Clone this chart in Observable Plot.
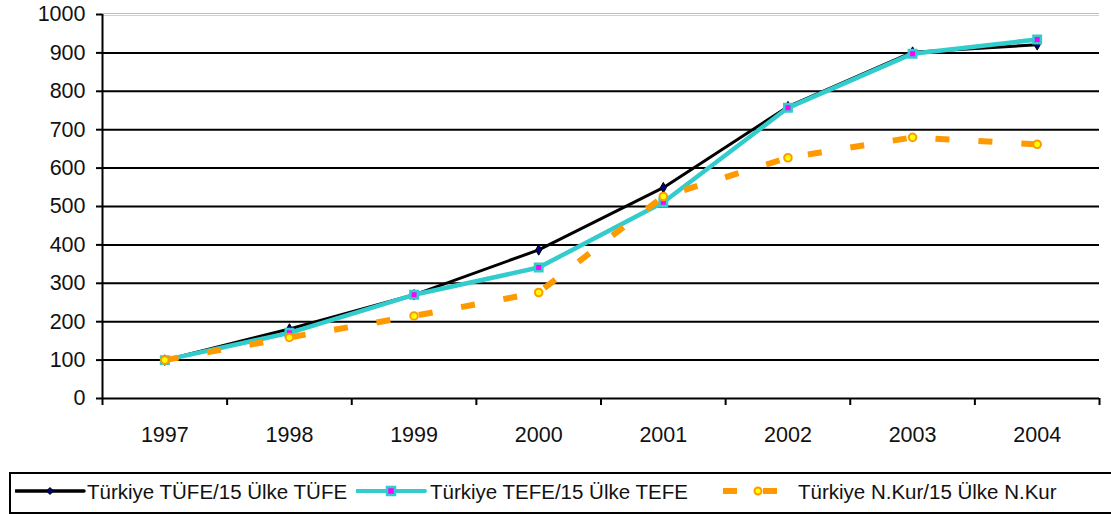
<!DOCTYPE html>
<html>
<head>
<meta charset="utf-8">
<script src="https://cdn.jsdelivr.net/npm/d3@7"></script>
<script src="https://cdn.jsdelivr.net/npm/@observablehq/plot@0.6"></script>
<style>
  html, body { margin: 0; padding: 0; background: #fff; }
  #wrap { position: relative; width: 1111px; height: 514px; overflow: hidden; font-family: "Liberation Sans", Arial, sans-serif; }
  #legend { position: absolute; left: 9px; top: 472px; width: 1110px; height: 38px; border: 2px solid #000; box-sizing: content-box; }
  .lg { position: absolute; top: 0; font-size: 20.5px; line-height: 38px; color: #111; white-space: nowrap; }
  .sw { position: absolute; top: 0; }
</style>
</head>
<body>
<div id="wrap">
  <div id="chart"></div>
  <div id="legend"></div>
</div>
<script>
const years = [1997, 1998, 1999, 2000, 2001, 2002, 2003, 2004];
const tufe = [100, 181, 270, 387, 549, 760, 902, 921];
const tefe = [100, 171, 270, 341, 511, 757, 898, 935];
const nkur = [100, 159, 215, 276, 526, 627, 680, 662];
const seriesNames = ["Türkiye TÜFE/15 Ülke TÜFE", "Türkiye TEFE/15 Ülke TEFE", "Türkiye N.Kur/15 Ülke N.Kur"];
const yTicks = d3.range(0, 1001, 100);
const gridValues = d3.range(100, 1000, 100);

const rows = (vals) => years.map((y, i) => ({year: y, value: vals[i]}));
const dTufe = rows(tufe), dTefe = rows(tefe), dNkur = rows(nkur);
const bounds = d3.range(years[0] - 0.5, years[years.length - 1] + 1, 1);

const H = 465;
const chart = Plot.plot({
  width: 1111,
  height: H,
  marginLeft: 102,
  marginRight: 12,
  marginTop: 14,
  marginBottom: H - 398,
  style: {fontFamily: "'Liberation Sans', Arial, sans-serif", fontSize: "21.5px", color: "#000", background: "#fff"},
  x: {domain: [bounds[0], bounds[bounds.length - 1]], type: "linear", label: null},
  y: {domain: [0, 1000], label: null},
  marks: [
    Plot.ruleY(gridValues, {stroke: "#000", strokeWidth: 2}),
    Plot.ruleY([1000], {stroke: "#bdbdbd", strokeWidth: 1, dy: -1}),
    Plot.ruleY([1000], {stroke: "#d0d0d0", strokeWidth: 1, dy: 1}),
    Plot.axisY({ticks: yTicks, tickSize: 6, tickPadding: 11, strokeWidth: 2, stroke: "#000", tickFormat: d => String(d), fill: "#111", label: null}),
    Plot.axisX({ticks: bounds, tickSize: 7, strokeWidth: 2, stroke: "#000", tickFormat: () => "", label: null}),
    Plot.axisX({ticks: years, tickSize: 0, tickPadding: 28, tickFormat: d => String(d), fill: "#111", label: null}),
    Plot.ruleX([bounds[0]], {y1: 0, y2: 1000, stroke: "#000", strokeWidth: 2}),
    Plot.ruleY([0], {stroke: "#000", strokeWidth: 2}),
    // TÜFE
    Plot.line(dTufe, {x: "year", y: "value", stroke: "#000", strokeWidth: 3}),
    Plot.dot(dTufe, {x: "year", y: "value", symbol: "diamond", r: 3.2, fill: "#000080", stroke: "#000", strokeWidth: 1}),
    // TEFE
    Plot.line(dTefe, {x: "year", y: "value", stroke: "#33cccc", strokeWidth: 4.5}),
    Plot.dot(dTefe, {x: "year", y: "value", symbol: "square", r: 4.2, fill: "#ff00ff", stroke: "#33cccc", strokeWidth: 2.5}),
    // N.Kur
    Plot.line(dNkur, {x: "year", y: "value", stroke: "#ff9900", strokeWidth: 6, strokeDasharray: "14,29", strokeLinecap: "butt"}),
    Plot.dot(dNkur, {x: "year", y: "value", symbol: "circle", r: 3.8, fill: "#ffff00", stroke: "#ff9900", strokeWidth: 2})
  ]
});
document.getElementById("chart").appendChild(chart);

// Legend
const legend = d3.select("#legend");
const items = [
  {sx: 4, tx: 76, name: seriesNames[0], kind: "tufe"},
  {sx: 345, tx: 419, name: seriesNames[1], kind: "tefe"},
  {sx: 712, tx: 787, name: seriesNames[2], kind: "nkur"}
];
items.forEach(it => {
  const svg = legend.append("svg").attr("class", "sw").attr("width", 72).attr("height", 38).style("left", it.sx + "px");
  const cy = 17;
  if (it.kind === "tufe") {
    svg.append("line").attr("x1", 1).attr("x2", 69).attr("y1", cy).attr("y2", cy).attr("stroke", "#000").attr("stroke-width", 3.5).attr("stroke-linecap", "round");
    svg.append("path").attr("d", `M35,${cy-3.5} L38.5,${cy} L35,${cy+3.5} L31.5,${cy} Z`).attr("fill", "#000080").attr("stroke", "#000");
  } else if (it.kind === "tefe") {
    svg.append("line").attr("x1", 1).attr("x2", 69).attr("y1", cy).attr("y2", cy).attr("stroke", "#33cccc").attr("stroke-width", 4).attr("stroke-linecap", "round");
    svg.append("rect").attr("x", 31).attr("y", cy-4).attr("width", 8).attr("height", 8).attr("fill", "#ff00ff").attr("stroke", "#33cccc").attr("stroke-width", 2.5);
  } else {
    svg.append("line").attr("x1", 0).attr("x2", 68).attr("y1", cy).attr("y2", cy).attr("stroke", "#ff9900").attr("stroke-width", 6).attr("stroke-dasharray", "14,26");
    svg.append("circle").attr("cx", 35).attr("cy", cy).attr("r", 3.5).attr("fill", "#ffff00").attr("stroke", "#ff9900").attr("stroke-width", 2);
  }
  legend.append("div").attr("class", "lg").style("left", it.tx + "px").style("top", "-1px").text(it.name);
});
</script>
</body>
</html>
